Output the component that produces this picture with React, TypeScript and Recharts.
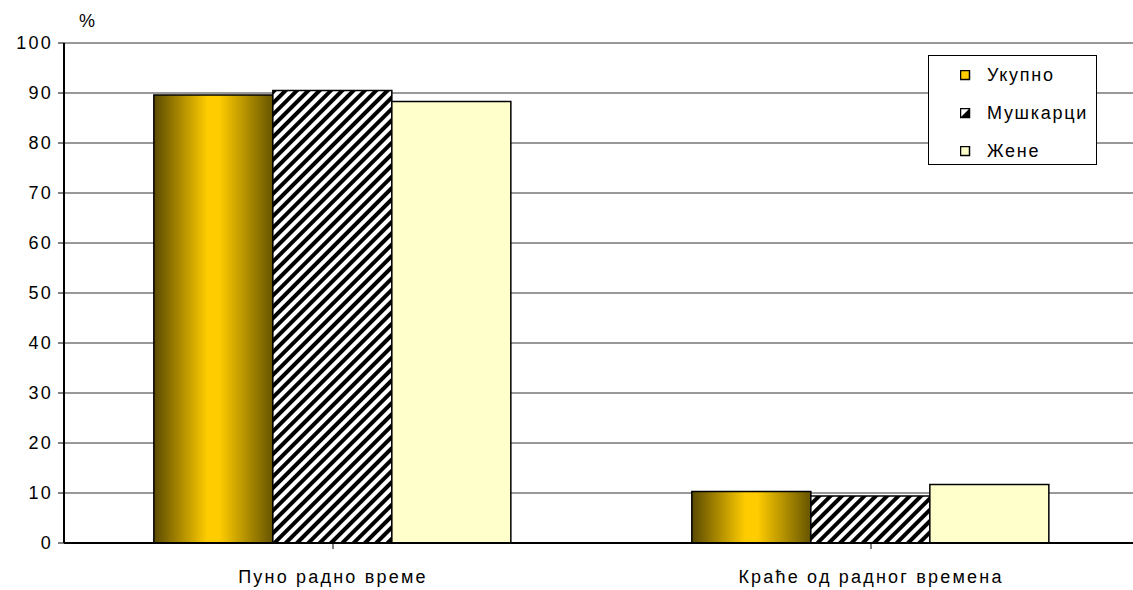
import { BarChart, Bar, XAxis, YAxis, CartesianGrid, Legend } from "recharts";

const categories = ["Пуно радно време", "Краће од радног времена"];
const ukupno = [89.6, 10.3];
const muskarci = [90.5, 9.4];
const zene = [88.3, 11.7];
const yTicks = [0, 10, 20, 30, 40, 50, 60, 70, 80, 90, 100];

const seriesNames = ["Укупно", "Мушкарци", "Жене"];

const data = categories.map((name, i) => ({
  name,
  ukupno: ukupno[i],
  muskarci: muskarci[i],
  zene: zene[i],
}));

const FONT = '"Liberation Sans", Arial, sans-serif';
const tickStyle = { fill: "#000", fontFamily: FONT, fontSize: 18, letterSpacing: 2.2 };

function LegendBox() {
  const icons = [
    <rect x={0.5} y={0.5} width={9} height={9} fill="#ffcc00" stroke="#000" strokeWidth={1.5} />,
    <g>
      <rect x={0.5} y={0.5} width={9} height={9} fill="#fff" stroke="#000" strokeWidth={1.5} />
      <polygon points="10,0 10,10 0,10" fill="#000" />
    </g>,
    <rect x={0.5} y={0.5} width={9} height={9} fill="#ffffcc" stroke="#000" strokeWidth={1.5} />,
  ];
  return (
    <div
      style={{
        border: "1px solid #000",
        background: "#fff",
        width: 169,
        height: 110,
        boxSizing: "border-box",
        fontFamily: FONT,
        fontSize: 18,
        letterSpacing: 1.7,
      }}
    >
      {seriesNames.map((n, i) => (
        <div key={n} style={{ display: "flex", alignItems: "center", height: 38, paddingLeft: 31 }}>
          <svg width={11} height={11} style={{ marginRight: 16 }}>
            {icons[i]}
          </svg>
          <span>{n}</span>
        </div>
      ))}
    </div>
  );
}

export default function App() {
  return (
    <div style={{ position: "absolute", left: 0, top: 0, width: 1133, height: 590, overflow: "hidden", background: "#fff" }}>
      <div style={{ position: "absolute", left: 79, top: 11, fontFamily: FONT, fontSize: 18 }}>%</div>
      <BarChart
        width={1145}
        height={590}
        data={data}
        margin={{ top: 43, right: 5, bottom: 0, left: 0 }}
        barCategoryGap="16.7%"
        barGap={0}
      >
        <defs>
          <linearGradient id="goldGrad" x1="0" y1="0" x2="1" y2="0">
            <stop offset="0%" stopColor="#5a4a00" />
            <stop offset="45%" stopColor="#ffcc00" />
            <stop offset="55%" stopColor="#ffcc00" />
            <stop offset="100%" stopColor="#665400" />
          </linearGradient>
          <pattern id="hatch" patternUnits="userSpaceOnUse" width={8} height={8} patternTransform="rotate(45)">
            <rect width={8} height={8} fill="#fff" />
            <rect width={4} height={8} fill="#000" />
          </pattern>
        </defs>
        <CartesianGrid vertical={false} stroke="#333" strokeWidth={1} />
        <XAxis
          dataKey="name"
          height={47}
          tickSize={6}
          tickMargin={21}
          axisLine={{ stroke: "#000", strokeWidth: 2 }}
          tickLine={{ stroke: "#000" }}
          tick={tickStyle}
        />
        <YAxis
          width={64}
          domain={[0, 100]}
          ticks={yTicks}
          interval={0}
          tickSize={6}
          tickMargin={5}
          axisLine={{ stroke: "#000", strokeWidth: 2 }}
          tickLine={{ stroke: "#000" }}
          tick={tickStyle}
        />
        <Legend
          layout="vertical"
          align="center"
          verticalAlign="middle"
          wrapperStyle={{ top: 55, left: 928, width: 169 }}
          content={() => <LegendBox />}
        />
        <Bar dataKey="ukupno" name={seriesNames[0]} fill="url(#goldGrad)" stroke="#000" strokeWidth={1.5} isAnimationActive={false} />
        <Bar dataKey="muskarci" name={seriesNames[1]} fill="url(#hatch)" stroke="#000" strokeWidth={1.5} isAnimationActive={false} />
        <Bar dataKey="zene" name={seriesNames[2]} fill="#ffffcc" stroke="#000" strokeWidth={1.5} isAnimationActive={false} />
      </BarChart>
    </div>
  );
}
